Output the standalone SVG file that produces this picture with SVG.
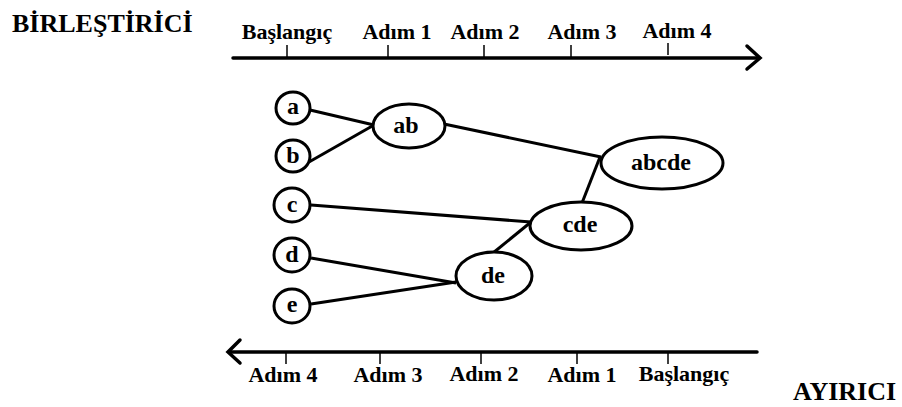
<svg xmlns="http://www.w3.org/2000/svg" width="902" height="407" viewBox="0 0 902 407">
<style>
text{font-family:"Liberation Serif","Times New Roman",serif;font-weight:bold;fill:#000}
.title{font-size:26px}
.lab{font-size:22px;text-anchor:middle}
.nt{font-size:24px;text-anchor:middle}
.node{fill:#fff;stroke:#000;stroke-width:3}
.axis{stroke:#000;stroke-width:3.5;fill:none;stroke-linecap:round}
.tick{stroke:#000;stroke-width:1.5}
.edge{stroke:#000;stroke-width:3;fill:none}
</style>
<rect width="902" height="407" fill="#fff"/>
<text class="title" x="12" y="32">BİRLEŞTİRİCİ</text>
<text class="title" x="793" y="400">AYIRICI</text>
<g id="axis-top">
<line class="axis" x1="233" y1="58" x2="759" y2="58"/>
<polyline class="axis" points="747,46 760,58 747,69"/>
<line class="tick" x1="287" y1="45" x2="287" y2="58"/>
<line class="tick" x1="388" y1="45" x2="388" y2="58"/>
<line class="tick" x1="484" y1="45" x2="484" y2="58"/>
<line class="tick" x1="571" y1="45" x2="571" y2="58"/>
<line class="tick" x1="668" y1="43" x2="668" y2="55"/>
<text class="lab" x="287" y="39">Başlangıç</text>
<text class="lab" x="397" y="39">Adım 1</text>
<text class="lab" x="485" y="39">Adım 2</text>
<text class="lab" x="582" y="39">Adım 3</text>
<text class="lab" x="677" y="38">Adım 4</text>
</g>
<g id="axis-bottom">
<line class="axis" x1="229" y1="352" x2="757" y2="352"/>
<polyline class="axis" points="240,340 228,352 240,363"/>
<line class="tick" x1="286" y1="352" x2="286" y2="364"/>
<line class="tick" x1="380" y1="352" x2="380" y2="364"/>
<line class="tick" x1="481" y1="352" x2="481" y2="364"/>
<line class="tick" x1="577" y1="352" x2="577" y2="364"/>
<line class="tick" x1="668" y1="352" x2="668" y2="364"/>
<text class="lab" x="283" y="382">Adım 4</text>
<text class="lab" x="388" y="382">Adım 3</text>
<text class="lab" x="484" y="381">Adım 2</text>
<text class="lab" x="582" y="382">Adım 1</text>
<text class="lab" x="684" y="381">Başlangıç</text>
</g>
<g id="connectors">
<line class="edge" x1="310" y1="110" x2="374" y2="125"/>
<line class="edge" x1="309" y1="162" x2="374" y2="125"/>
<line class="edge" x1="444" y1="124" x2="601" y2="157"/>
<line class="edge" x1="582" y1="203" x2="600" y2="157"/>
<line class="edge" x1="311" y1="205" x2="531" y2="222"/>
<line class="edge" x1="493" y1="253" x2="531" y2="222"/>
<line class="edge" x1="311" y1="258" x2="456" y2="283"/>
<line class="edge" x1="311" y1="304" x2="456" y2="282"/>
</g>
<g id="node-a"><ellipse class="node" cx="293" cy="108" rx="17" ry="16"/><text class="nt" x="293" y="114">a</text></g>
<g id="node-b"><ellipse class="node" cx="293" cy="156" rx="17" ry="16"/><text class="nt" x="293" y="163">b</text></g>
<g id="node-c"><ellipse class="node" cx="292" cy="205" rx="18" ry="17"/><text class="nt" x="292" y="212">c</text></g>
<g id="node-d"><ellipse class="node" cx="292" cy="255" rx="18" ry="17"/><text class="nt" x="292" y="262">d</text></g>
<g id="node-e"><ellipse class="node" cx="292" cy="306" rx="18" ry="17"/><text class="nt" x="292" y="312">e</text></g>
<g id="node-ab"><ellipse class="node" cx="409" cy="126" rx="36" ry="22"/><text class="nt" x="406" y="133">ab</text></g>
<g id="node-abcde"><ellipse class="node" cx="662" cy="163" rx="61" ry="26"/><text class="nt" x="661" y="170">abcde</text></g>
<g id="node-cde"><ellipse class="node" cx="581" cy="226" rx="51" ry="24"/><text class="nt" x="580" y="232">cde</text></g>
<g id="node-de"><ellipse class="node" cx="494" cy="276" rx="38" ry="24"/><text class="nt" x="493" y="283">de</text></g>
</svg>
